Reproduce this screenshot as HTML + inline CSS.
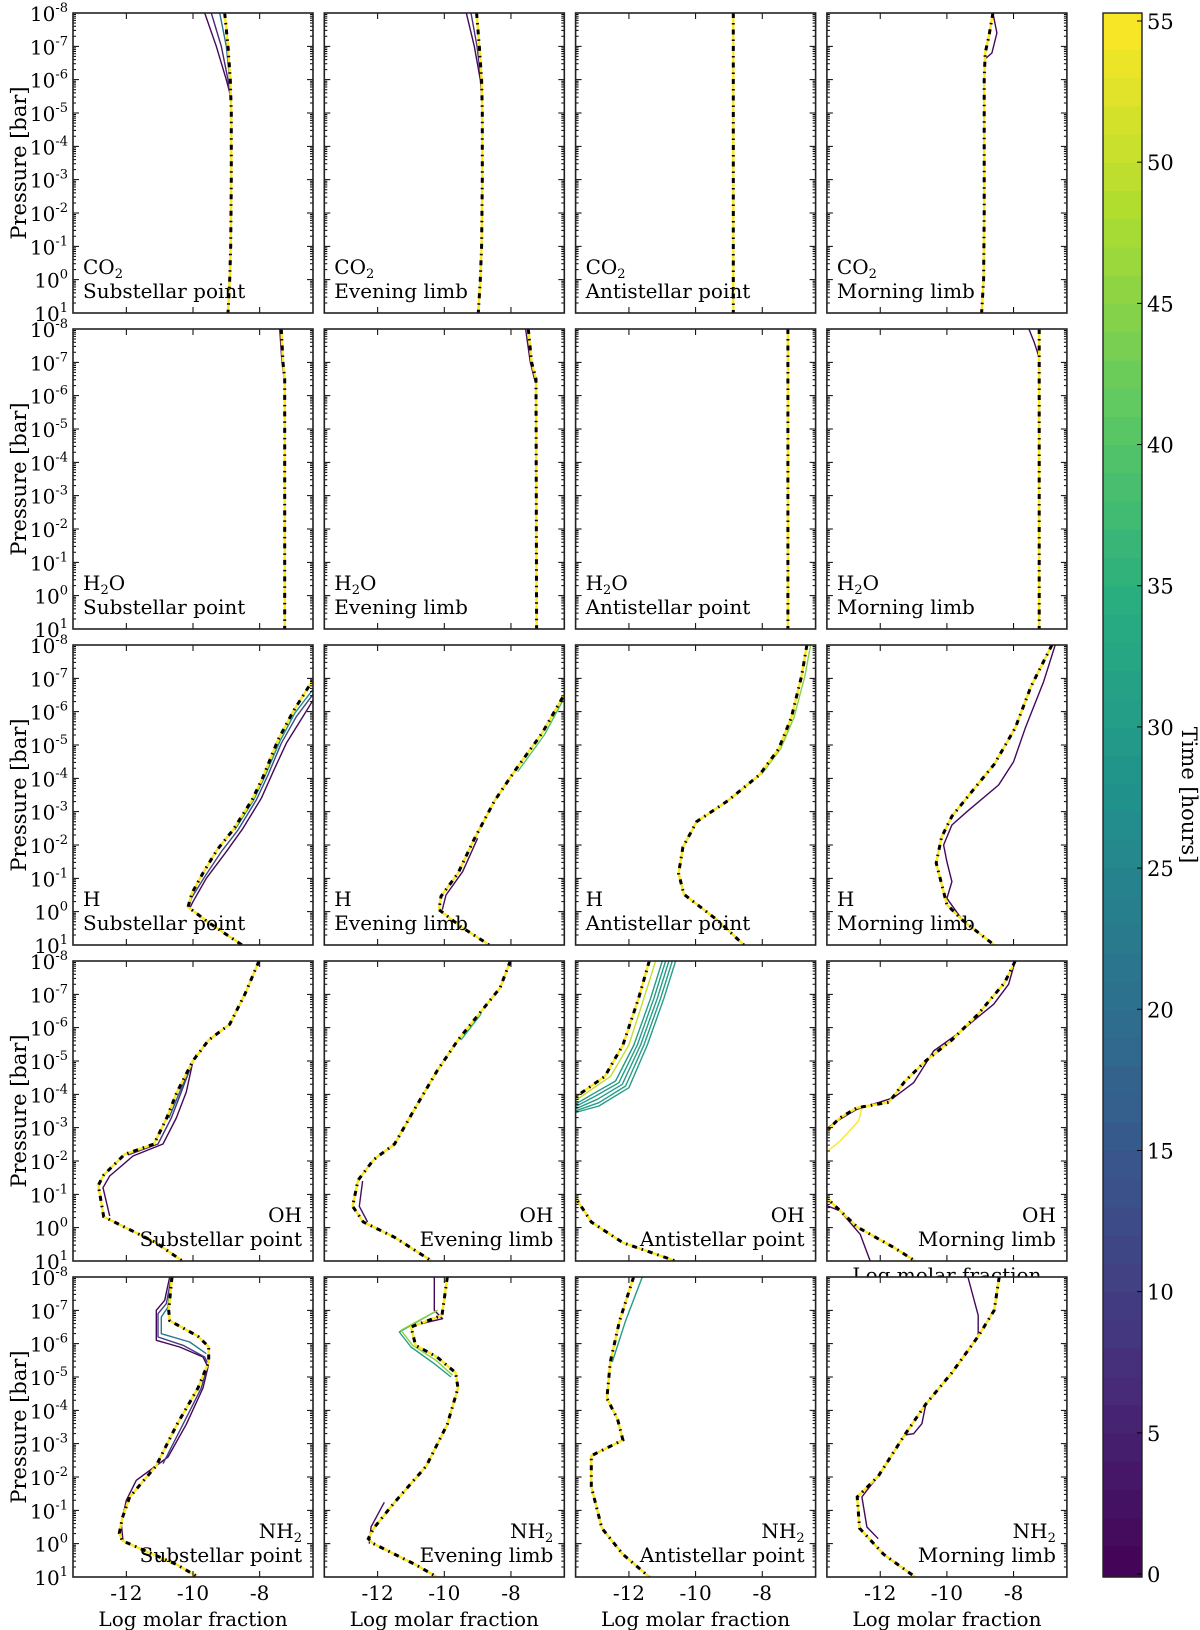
<!DOCTYPE html>
<html><head><meta charset="utf-8">
<style>
html,body{margin:0;padding:0;background:#fff;}
svg{display:block;}
text{font-family:"DejaVu Serif","Liberation Serif",serif;fill:#000;}
</style></head>
<body>
<svg id="chart" width="1200" height="1630" viewBox="0 0 1200 1630" xmlns="http://www.w3.org/2000/svg"></svg>
<script>
const species = ["CO2","H2O","H","OH","NH2"];
const locations = ["Substellar point","Evening limb","Antistellar point","Morning limb"];
const xTicks = [-12,-10,-8];
const yTicks = [-8,-7,-6,-5,-4,-3,-2,-1,0,1];
const cbTicks = [0,5,10,15,20,25,30,35,40,45,50,55];
const timeMax = 55;

const finalCO2_sub = [[-9.05,-8],[-8.95,-7],[-8.88,-6],[-8.85,-5],[-8.85,-3],[-8.87,-1],[-8.9,0],[-8.95,1]];
const finalCO2_eve = [[-9.03,-8],[-8.95,-7],[-8.88,-6],[-8.86,-5],[-8.86,-3],[-8.88,-1],[-8.92,0],[-8.98,1]];
const finalCO2_ant = [[-8.87,-8],[-8.87,1]];
const finalCO2_mor = [[-8.62,-8],[-8.74,-7.3],[-8.85,-6.8],[-8.88,-6],[-8.88,-2],[-8.9,0],[-8.96,1]];
const finalH2O_sub = [[-7.35,-8],[-7.3,-7],[-7.25,-6.5],[-7.25,1]];
const finalH2O_eve = [[-7.48,-8],[-7.38,-7],[-7.25,-6.5],[-7.23,1]];
const finalH2O_ant = [[-7.23,-8],[-7.23,1]];
const finalH2O_mor = [[-7.23,-8],[-7.23,1]];
const finalH_sub = [[-6.3,-7.2],[-6.46,-6.86],[-7.0,-6.0],[-7.45,-5.15],[-7.9,-4.04],[-8.23,-3.35],[-8.8,-2.45],[-9.28,-1.85],[-9.7,-1.16],[-10.03,-0.56],[-10.15,-0.14],[-9.5,0.35],[-8.53,1]];
const finalH_eve = [[-6.3,-6.9],[-6.41,-6.5],[-7.07,-5.35],[-7.86,-4.26],[-8.49,-3.33],[-9.12,-2.14],[-9.59,-1.15],[-10.1,-0.46],[-10.16,-0.06],[-9.5,0.45],[-8.65,1]];
const finalH_ant = [[-6.66,-8],[-6.82,-7.07],[-7.13,-5.82],[-7.51,-4.88],[-8.08,-4.11],[-9.03,-3.33],[-9.97,-2.7],[-10.38,-1.93],[-10.51,-1.15],[-10.35,-0.52],[-9.34,0.26],[-8.55,1]];
const finalH_mor = [[-6.85,-8],[-7.48,-6.75],[-7.95,-5.51],[-8.58,-4.42],[-9.22,-3.64],[-9.85,-2.86],[-10.16,-2.24],[-10.32,-1.46],[-10.16,-0.83],[-10.0,-0.21],[-9.53,0.26],[-8.58,1]];
const finalOH_sub = [[-8.02,-8],[-8.43,-7.03],[-8.9,-6.1],[-9.53,-5.63],[-10.0,-5.01],[-10.48,-4.07],[-10.79,-3.29],[-11.17,-2.51],[-12.05,-2.2],[-12.68,-1.58],[-12.84,-1.27],[-12.68,-0.33],[-11.11,0.45],[-10.32,1]];
const finalOH_eve = [[-8.02,-8],[-8.33,-7.19],[-8.96,-6.41],[-9.59,-5.63],[-10.22,-4.7],[-10.86,-3.61],[-11.49,-2.51],[-12.12,-2.04],[-12.59,-1.42],[-12.75,-0.64],[-12.43,-0.17],[-11.49,0.29],[-10.38,1]];
const finalOH_ant_up = [[-11.39,-8],[-11.71,-6.88],[-12.18,-5.48],[-12.72,-4.54],[-13.7,-3.85]];
const finalOH_ant_lo = [[-13.7,-1.05],[-13.13,-0.17],[-12.18,0.45],[-10.6,1]];
const finalOH_mor_up = [[-7.95,-8],[-8.27,-7.35],[-9.06,-6.41],[-9.85,-5.63],[-10.63,-5.01],[-11.27,-4.38],[-11.74,-3.76],[-12.69,-3.6],[-13.22,-3.29],[-13.7,-2.8]];
const finalOH_mor_lo = [[-13.7,-0.98],[-12.69,-0.02],[-11.58,0.6],[-10.95,1]];
const finalNH2_sub = [[-10.63,-8],[-10.73,-7.0],[-10.7,-6.69],[-9.85,-6.22],[-9.53,-5.91],[-9.53,-5.45],[-9.85,-4.67],[-10.48,-3.58],[-11.11,-2.33],[-11.9,-1.4],[-12.12,-0.77],[-12.21,-0.31],[-12.12,-0.09],[-10.48,0.63],[-9.85,1]];
const finalNH2_eve = [[-9.91,-8],[-10.07,-6.85],[-11.0,-6.5],[-10.86,-5.95],[-10.22,-5.6],[-9.66,-5.13],[-9.59,-4.67],[-9.91,-3.58],[-10.54,-2.33],[-11.49,-1.24],[-12.12,-0.46],[-12.28,-0.15],[-12.12,0.0],[-10.86,0.63],[-10.22,1]];
const finalNH2_ant = [[-11.86,-8],[-12.28,-6.69],[-12.56,-5.45],[-12.66,-4.36],[-12.34,-3.73],[-12.18,-3.11],[-13.13,-2.64],[-13.13,-1.71],[-12.81,-0.46],[-12.18,0.32],[-11.39,1]];
const finalNH2_mor = [[-8.43,-8],[-8.58,-7.0],[-9.06,-6.22],[-9.85,-5.13],[-10.63,-4.19],[-11.27,-3.26],[-12.06,-2.02],[-12.69,-1.4],[-12.62,-0.46],[-11.9,0.32],[-10.95,1]];

const varCO2_sub = [{t:1,pts:[[-9.65,-8],[-9.3,-7],[-9.0,-6],[-8.87,-5.5],[-8.85,-5]]},{t:6,pts:[[-9.45,-8],[-9.15,-7],[-8.95,-6],[-8.86,-5.3]]},{t:20,pts:[[-9.2,-8],[-9.0,-7],[-8.9,-6]]}];
const varCO2_eve = [{t:1,pts:[[-9.34,-8],[-9.1,-7],[-8.92,-6],[-8.86,-5.3]]},{t:8,pts:[[-9.2,-8],[-9.02,-7],[-8.9,-6]]}];
const varCO2_mor = [{t:1,pts:[[-8.62,-8],[-8.5,-7.4],[-8.65,-6.8],[-8.88,-6.6]]}];
const varH2O_sub = [{t:2,pts:[[-7.4,-8],[-7.33,-7],[-7.25,-6.4]]}];
const varH2O_eve = [{t:2,pts:[[-7.56,-8],[-7.42,-7],[-7.27,-6.4]]}];
const varH2O_mor = [{t:1,pts:[[-7.54,-8],[-7.38,-7.6],[-7.25,-7.2]]}];
const varH_sub = [{t:1,pts:[[-6.3,-6.5],[-6.8,-5.7],[-7.2,-5.05],[-7.55,-4.3],[-7.95,-3.4],[-8.5,-2.5],[-9.0,-1.8],[-9.6,-1.0],[-10.0,-0.3],[-10.1,-0.1]]},{t:12,pts:[[-6.3,-6.65],[-6.9,-5.85],[-7.35,-5.05],[-7.75,-4.1],[-8.1,-3.35],[-8.65,-2.45],[-9.15,-1.8],[-9.65,-1.05],[-10.05,-0.4],[-10.13,-0.12]]},{t:28,pts:[[-6.3,-6.8],[-6.95,-5.95],[-7.4,-5.1],[-7.85,-4.05],[-8.18,-3.35],[-8.75,-2.45]]}];
const varH_eve = [{t:2,pts:[[-9.0,-2.2],[-9.45,-1.2],[-9.95,-0.5],[-10.06,-0.06]]},{t:40,pts:[[-6.3,-6.6],[-7.0,-5.3],[-7.8,-4.2]]}];
const varH_ant = [{t:45,pts:[[-6.55,-8],[-6.72,-7.07],[-7.05,-5.82],[-7.45,-4.88],[-8.03,-4.11]]}];
const varH_mor = [{t:1,pts:[[-6.75,-8],[-7.1,-6.9],[-7.65,-5.5],[-8.0,-4.5],[-8.45,-3.8],[-9.4,-3.0],[-9.85,-2.6],[-10.1,-2.0],[-10.0,-1.5],[-9.85,-0.9],[-10.0,-0.4],[-9.53,0.26]]}];
const varOH_sub = [{t:1,pts:[[-10.0,-5.0],[-10.2,-4.07],[-10.5,-3.29],[-10.9,-2.51],[-11.8,-2.15],[-12.5,-1.55],[-12.7,-1.2],[-12.5,-0.35]]},{t:8,pts:[[-10.0,-5.0],[-10.35,-4.07],[-10.65,-3.29],[-11.05,-2.51],[-11.95,-2.18]]},{t:16,pts:[[-9.9,-5.2],[-10.4,-4.07],[-10.72,-3.29]]}];
const varOH_eve = [{t:2,pts:[[-12.45,-1.4],[-12.55,-0.64],[-12.3,-0.17]]},{t:35,pts:[[-8.9,-6.41],[-9.5,-5.63]]}];
const varOH_ant = [{t:50,pts:[[-11.2,-8],[-11.55,-6.88],[-12.0,-5.48],[-12.55,-4.54],[-13.7,-3.75]]},{t:30,pts:[[-11.0,-8],[-11.35,-6.88],[-11.85,-5.48],[-12.4,-4.4],[-13.1,-4.0],[-13.7,-3.65]]},{t:30,pts:[[-10.9,-8],[-11.25,-6.88],[-11.75,-5.48],[-12.3,-4.35],[-13.0,-3.95],[-13.7,-3.58]]},{t:30,pts:[[-10.8,-8],[-11.15,-6.88],[-11.65,-5.48],[-12.2,-4.3],[-12.95,-3.85],[-13.7,-3.52]]},{t:30,pts:[[-10.7,-8],[-11.05,-6.88],[-11.55,-5.48],[-12.1,-4.25],[-12.9,-3.75],[-13.7,-3.47]]},{t:30,pts:[[-10.6,-8],[-10.95,-6.88],[-11.45,-5.48],[-12.0,-4.2],[-12.9,-3.65],[-13.7,-3.43]]}];
const varOH_mor = [{t:1,pts:[[-7.95,-8],[-8.15,-7.3],[-8.6,-6.7],[-9.7,-5.8],[-10.4,-5.3],[-11.0,-4.35],[-11.6,-3.9],[-12.7,-3.55],[-13.3,-3.2],[-13.7,-2.9]]},{t:1,pts:[[-13.7,-0.7],[-13.2,-0.5],[-12.6,0.2],[-12.3,1]]},{t:55,pts:[[-12.55,-3.6],[-12.65,-3.2],[-13.2,-2.6],[-13.7,-2.2]]}];
const varNH2_sub = [{t:1,pts:[[-10.7,-8],[-10.85,-7.3],[-11.1,-7.0],[-11.1,-6.1],[-10.4,-5.9],[-9.7,-5.6],[-9.55,-5.3],[-9.7,-4.67],[-10.2,-3.58],[-10.75,-2.6],[-11.7,-1.9],[-12.0,-1.3],[-12.15,-0.6],[-12.1,-0.09]]},{t:10,pts:[[-10.65,-8],[-10.8,-7.2],[-11.05,-6.9],[-11.05,-6.2],[-10.3,-5.95],[-9.65,-5.6],[-9.55,-5.4],[-9.75,-4.67],[-10.3,-3.58],[-10.9,-2.4]]},{t:22,pts:[[-10.65,-8],[-10.75,-7.1],[-10.95,-6.8],[-10.95,-6.3],[-10.1,-6.05],[-9.6,-5.7]]}];
const varNH2_eve = [{t:1,pts:[[-10.3,-8],[-10.3,-7.0],[-10.05,-6.75],[-10.7,-6.6]]},{t:30,pts:[[-10.2,-7.0],[-11.35,-6.35],[-11.0,-5.9],[-10.3,-5.4],[-9.8,-5.0]]},{t:45,pts:[[-10.2,-7.0],[-11.3,-6.4],[-10.95,-5.95],[-10.25,-5.5],[-9.75,-5.05]]},{t:2,pts:[[-11.8,-1.24],[-12.2,-0.5],[-12.25,0.0]]}];
const varNH2_ant = [{t:30,pts:[[-11.6,-8],[-12.1,-6.69],[-12.5,-5.45]]}];
const varNH2_mor = [{t:1,pts:[[-9.37,-8],[-9.06,-6.85],[-9.06,-6.22],[-9.85,-5.13],[-10.63,-4.19],[-10.75,-3.6],[-11.0,-3.3],[-11.27,-3.26],[-12.0,-2.1],[-12.4,-1.6],[-12.55,-1.4],[-12.4,-0.5],[-12.06,-0.15]]}];

const finals = [
 [[finalCO2_sub],[finalCO2_eve],[finalCO2_ant],[finalCO2_mor]],
 [[finalH2O_sub],[finalH2O_eve],[finalH2O_ant],[finalH2O_mor]],
 [[finalH_sub],[finalH_eve],[finalH_ant],[finalH_mor]],
 [[finalOH_sub],[finalOH_eve],[finalOH_ant_up,finalOH_ant_lo],[finalOH_mor_up,finalOH_mor_lo]],
 [[finalNH2_sub],[finalNH2_eve],[finalNH2_ant],[finalNH2_mor]]
];
const variants = [
 [varCO2_sub,varCO2_eve,[],varCO2_mor],
 [varH2O_sub,varH2O_eve,[],varH2O_mor],
 [varH_sub,varH_eve,varH_ant,varH_mor],
 [varOH_sub,varOH_eve,varOH_ant,varOH_mor],
 [varNH2_sub,varNH2_eve,varNH2_ant,varNH2_mor]
];

const NS="http://www.w3.org/2000/svg";
const svg=document.getElementById('chart');
const W=240,H=300,X0=-13.6,X1=-6.4,P0=-8,P1=1;
const colLeft=c=>73+251.3*c, rowTop=r=>13+316*r;
function sx(c,v){return colLeft(c)+(v-X0)/(X1-X0)*W;}
function sy(r,p){return rowTop(r)+(p-P0)/(P1-P0)*H;}
function mk(tag,attrs,parent){const e=document.createElementNS(NS,tag);for(const k in attrs)e.setAttribute(k,attrs[k]);(parent||svg).appendChild(e);return e;}
const vstops=[[0,[68,1,84]],[0.125,[71,45,123]],[0.25,[59,82,139]],[0.375,[44,114,142]],[0.5,[33,145,140]],[0.625,[40,174,128]],[0.75,[94,201,98]],[0.875,[173,220,48]],[1,[253,231,37]]];
function viridis(f){f=Math.max(0,Math.min(1,f));for(let i=1;i<vstops.length;i++){if(f<=vstops[i][0]){const a=vstops[i-1],b=vstops[i];const u=(f-a[0])/(b[0]-a[0]);const c=a[1].map((v,k)=>Math.round(v+(b[1][k]-v)*u));return `rgb(${c[0]},${c[1]},${c[2]})`;}}return 'rgb(253,231,37)';}

const defs=mk('defs',{});
const speciesLabels={CO2:["CO","2"],H2O:["H","2","O"],H:["H"],OH:["OH"],NH2:["NH","2"]};

function drawPanel(r,c){
  const L=colLeft(c),T=rowTop(r);
  const g=mk('g',{});
  
  
  mk('rect',{x:L,y:T,width:W,height:H,fill:'#fff'},g);
  const cp=mk('clipPath',{id:'cp'+r+c},defs);
  mk('rect',{x:L,y:T,width:W,height:H},cp);
  const lg=mk('g',{'clip-path':'url(#cp'+r+c+')'},g);
  const toPath=pts=>pts.map((q,i)=>(i?'L':'M')+sx(c,q[0]).toFixed(1)+','+sy(r,q[1]).toFixed(1)).join('');
  variants[r][c].forEach(v=>{
    const pl=mk('path',{d:toPath(v.pts),fill:'none',stroke:viridis(v.t/timeMax),'stroke-width':1.4,'stroke-linejoin':'round'},lg);
    
    
  });
  finals[r][c].forEach(pts=>{
    const y=mk('path',{d:toPath(pts),fill:'none',stroke:'#fde725','stroke-width':2.4,'stroke-linejoin':'round'},lg);
    
    
    const b=mk('path',{d:toPath(pts),fill:'none',stroke:'#000','stroke-width':3,'stroke-dasharray':'5 5 1.5 5'},lg);
    
    
  });
  let tk='';
  yTicks.forEach(p=>{const y=sy(r,p);tk+=`M${L},${y}h6M${L+W},${y}h-6`;
    if(p<P1){for(let m=2;m<10;m++){const yy=sy(r,p+1-Math.log10(m));tk+=`M${L},${yy}h3M${L+W},${yy}h-3`;}}});
  xTicks.forEach(v=>{const x=sx(c,v);tk+=`M${x},${T}v6M${x},${T+H}v-6`;});
  mk('path',{d:tk,stroke:'#000','stroke-width':1,fill:'none'},g);
  const fr=mk('rect',{x:L,y:T,width:W,height:H,fill:'none',stroke:'#222','stroke-width':1.6},g);
  
  
  const right=r>=3;
  const ax=right?L+W-11:L+10, anchor=right?'end':'start';
  const t1=mk('text',{x:ax,y:T+H-39,'font-size':20,'text-anchor':anchor},g);
  
  
  const parts=speciesLabels[species[r]];
  parts.forEach((s,i)=>{const sp=mk('tspan',(i%2===1)?{'font-size':13,dy:4}:(i>0?{dy:-4}:{}),t1);sp.textContent=s;});
  const t2=mk('text',{x:ax,y:T+H-15,'font-size':20,'text-anchor':anchor},g);
  t2.textContent=locations[c];
  
  
  if(c===0){
    yTicks.forEach(p=>{const t=mk('text',{x:L-5,y:sy(r,p)+8,'font-size':20,'text-anchor':'end'},g);
      
      
      const s=mk('tspan',{},t);s.textContent='10';const e=mk('tspan',{dy:-9,'font-size':13},t);e.textContent=String(p);});
    const yl=mk('text',{x:0,y:0,'font-size':21,'text-anchor':'middle',transform:`translate(26,${T+H/2}) rotate(-90)`},g);
    yl.textContent='Pressure [bar]';
    
    
  }
  if(r===4){
    xTicks.forEach(v=>{const t=mk('text',{x:sx(c,v),y:T+H+23,'font-size':20,'text-anchor':'middle'},g);t.textContent=String(v);
      
      });
    const xl=mk('text',{x:L+W/2,y:T+H+49,'font-size':20,'text-anchor':'middle'},g);
    xl.textContent='Log molar fraction';
    
    
  }
}
for(let r=0;r<5;r++){
  if(r===4){
    const hx=mk('text',{x:colLeft(3)+W/2,y:1282,'font-size':20,'text-anchor':'middle'});
    hx.textContent='Log molar fraction';
    
    
  }
  for(let c=0;c<4;c++)drawPanel(r,c);
}
const cbX=1103,cbW=39,cbTop=13,cbBot=1577;
const cbY=t=>1574-(t/timeMax)*(1574-21);
const cb=mk('g',{});


const nb=Math.round(timeMax);
for(let i=0;i<nb;i++){
  const y0=i===0?cbBot:cbY(i), y1=i===nb-1?cbTop:cbY(i+1);
  mk('rect',{x:cbX,y:y1,width:cbW,height:y0-y1+0.6,fill:viridis((i+0.5)/nb)},cb);
}
mk('rect',{x:cbX,y:cbTop,width:cbW,height:cbBot-cbTop,fill:'none',stroke:'#222','stroke-width':1.4},cb);
cbTicks.forEach(t=>{const y=cbY(t);mk('path',{d:`M${cbX+cbW},${y}h-5`,stroke:'#000'},cb);
  const tx=mk('text',{x:cbX+cbW+5,y:y+8,'font-size':21},cb);tx.textContent=String(t);
  
  });
const cl=mk('text',{x:0,y:0,'font-size':21,'text-anchor':'middle',transform:'translate(1182,795) rotate(90)'},cb);
cl.textContent='Time [hours]';


</script>
</body></html>
